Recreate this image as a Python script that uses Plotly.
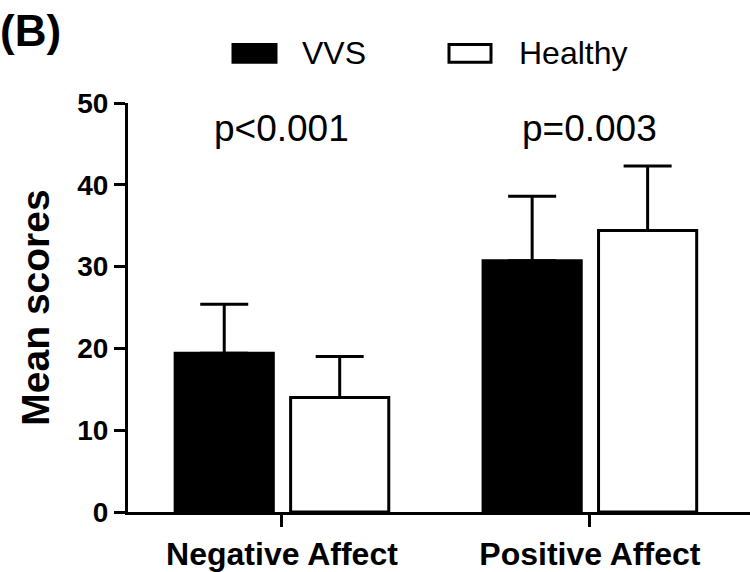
import plotly.graph_objects as go

# ---- data ----
categories = ["Negative Affect", "Positive Affect"]
series_names = ["VVS", "Healthy"]
vvs_mean = [19.4, 30.7]
vvs_sd = [6.0, 7.9]
healthy_mean = [14.0, 34.4]
healthy_sd = [5.0, 7.9]
p_labels = ["p<0.001", "p=0.003"]
y_ticks = [0, 10, 20, 30, 40, 50]

FONT = "Arial, 'Liberation Sans', Helvetica, sans-serif"
W, H = 750, 572
L, R, T, B = 128, 0, 103, 57
PW, PH = W - L - R, H - T - B


def px_x(px):
    return (px - L) / PW


def px_y(py):
    return (H - B - py) / PH


fig = go.Figure()
fig.add_trace(go.Bar(
    x=categories, y=vvs_mean, name=series_names[0],
    marker=dict(color="black", line=dict(color="black", width=3)),
    error_y=dict(type="data", array=vvs_sd, arrayminus=[0] * len(vvs_sd),
                 symmetric=False, thickness=3, width=24, color="black"),
))
fig.add_trace(go.Bar(
    x=categories, y=healthy_mean, name=series_names[1],
    marker=dict(color="white", line=dict(color="black", width=3)),
    error_y=dict(type="data", array=healthy_sd, arrayminus=[0] * len(healthy_sd),
                 symmetric=False, thickness=3, width=24, color="black"),
))

# p-value labels
for cat, lab in zip(categories, p_labels):
    fig.add_annotation(x=cat, xref="x", y=px_y(129), yref="paper",
                       text=lab, showarrow=False, yanchor="middle",
                       font=dict(family=FONT, size=37, color="black"))

# panel label
fig.add_annotation(x=px_x(-2), xref="paper", y=px_y(3), yref="paper",
                   text="<b>(B)</b>", showarrow=False, xanchor="left", yanchor="top",
                   font=dict(family=FONT, size=44, color="black"))

# custom legend
legend_items = [
    (series_names[0], "black", 233, 276, 302),
    (series_names[1], "white", 449, 491, 519),
]
for name, fill, x0, x1, tx in legend_items:
    fig.add_shape(type="rect", xref="paper", yref="paper",
                  x0=px_x(x0), x1=px_x(x1), y0=px_y(62), y1=px_y(44),
                  fillcolor=fill, line=dict(color="black", width=3))
    fig.add_annotation(x=px_x(tx - 2), xref="paper", y=px_y(53), yref="paper",
                       text=name, showarrow=False, xanchor="left", yanchor="middle",
                       font=dict(family=FONT, size=32, color="black"))

fig.update_layout(
    width=W, height=H,
    margin=dict(l=L, r=R, t=T, b=B, pad=0),
    paper_bgcolor="white", plot_bgcolor="white",
    barmode="group", bargap=0.25, bargroupgap=0.15,
    showlegend=False,
    font=dict(family=FONT, color="black"),
)
fig.update_xaxes(
    range=[-0.5, 1.52], showline=True, linecolor="black", linewidth=3,
    ticks="outside", ticklen=12, tickwidth=3, tickcolor="black",
    tickfont=dict(family=FONT, size=32, color="black", weight="bold"),
    showgrid=False, zeroline=False,
)
fig.update_yaxes(
    range=[0, 50], tickvals=y_ticks, showline=True, linecolor="black", linewidth=3,
    ticks="outside", ticklen=11, tickwidth=3, tickcolor="black",
    tickfont=dict(family=FONT, size=28, color="black", weight="bold"),
    showgrid=False, zeroline=False,
    title=dict(text="Mean scores", standoff=16,
               font=dict(family=FONT, size=39, color="black", weight="bold")),
)

fig.write_html(
    "out.html",
    config={"displayModeBar": False},
    post_script="document.body.style.margin='0';document.body.style.overflow='hidden';",
)
